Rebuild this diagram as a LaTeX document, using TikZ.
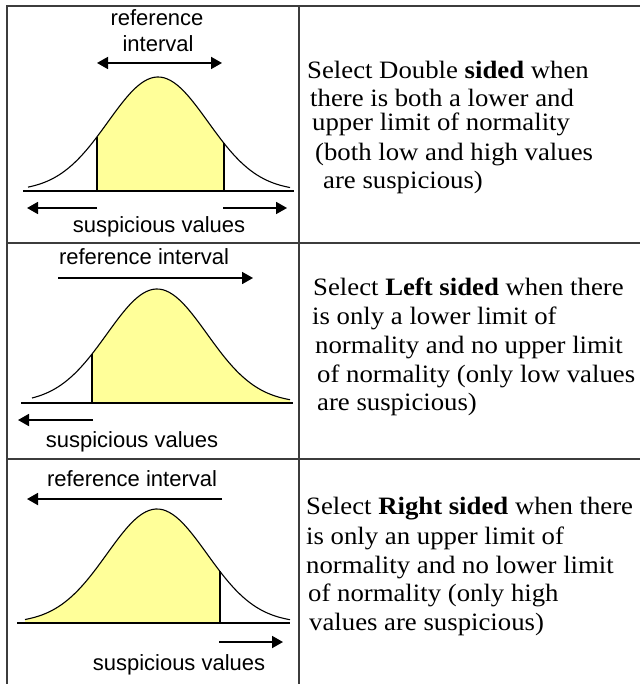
\documentclass[tikz,border=0pt]{standalone}
\usepackage{fontspec}
\setmainfont{Liberation Serif}
\newfontfamily\descfont[FakeStretch=1.07]{Liberation Serif}
\newfontfamily\labfont{Liberation Sans}
\usetikzlibrary{arrows.meta}
\definecolor{bellfill}{HTML}{FFFF99}
\definecolor{rule}{HTML}{3C3C3C}

\tikzset{
  gridline/.style={rule,line width=2pt},
  axisline/.style={black,line width=1.6pt},
  bellline/.style={black,line width=1.1pt},
  cutline/.style={black,line width=1.6pt},
  spanarrow/.style={black,line width=1.8pt,-{Triangle[length=11pt,width=12pt]}},
  spanboth/.style={black,line width=1.8pt,{Triangle[length=11pt,width=12pt]}-{Triangle[length=11pt,width=12pt]}},
  lab/.style={font=\labfont\fontsize{22}{24}\selectfont,inner sep=0pt,anchor=base},
  desc/.style={font=\descfont\fontsize{25}{28}\selectfont,inner sep=0pt,anchor=base west},
  declare function={bell(\x,\m)=114*exp(-0.5*((\x-\m)/50)^2);}
}

\begin{document}
\begin{tikzpicture}[x=1pt,y=-1pt]
  \useasboundingbox (0,0) rectangle (640,684);

  % Table rules
  \draw[gridline] (7,684) -- (7,6) -- (640,6);
  \draw[gridline] (299,6) -- (299,684);
  \draw[gridline] (7,243) -- (640,243);
  \draw[gridline] (7,459) -- (640,459);

  % Row 1: double sided
  \fill[bellfill] (97,191) -- plot[domain=97:224,samples=40] (\x,{191-bell(\x,158)}) -- (224,191) -- cycle;
  \draw[cutline] (97,191) -- (97,{191-bell(97,158)});
  \draw[cutline] (224,191) -- (224,{191-bell(224,158)});
  \draw[bellline] plot[domain=28:290,samples=80,smooth] (\x,{191-bell(\x,158)});
  \draw[axisline] (23,191) -- (294,191);
  \node[lab] (ref1a) at (157,26) {reference};
  \node[lab] (ref1b) at (158,52) {interval};
  \draw[spanboth] (97,63) -- (222,63);
  \draw[spanarrow] (97,208) -- (27,208);
  \draw[spanarrow] (223,208) -- (287,208);
  \node[lab] (susp1) at (159,233) {suspicious values};

  \node[desc] (dbl1) at (307,79) {Select Double \textbf{sided} when};
  \node[desc] (dbl2) at (310,107) {there is both a lower and};
  \node[desc] (dbl3) at (312,131) {upper limit of normality};
  \node[desc] (dbl4) at (315,161) {(both low and high values};
  \node[desc] (dbl5) at (323,189) {are suspicious)};

  % Row 2: left sided
  \fill[bellfill] (92,403) -- plot[domain=92:290,samples=60] (\x,{403-bell(\x,157)}) -- (290,403) -- cycle;
  \draw[cutline] (92,403) -- (92,{403-bell(92,157)});
  \draw[bellline] plot[domain=32:290,samples=80,smooth] (\x,{403-bell(\x,157)});
  \draw[axisline] (21,403) -- (293,403);
  \node[lab] (ref2) at (144,264) {reference interval};
  \draw[spanarrow] (58,278) -- (253,278);
  \draw[spanarrow] (93,420) -- (18,420);
  \node[lab] (susp2) at (132,447) {suspicious values};

  \node[desc] (lft1) at (313,295) {Select \textbf{Left sided} when there};
  \node[desc] (lft2) at (312,324) {is only a lower limit of};
  \node[desc] (lft3) at (315,353) {normality and no upper limit};
  \node[desc] (lft4) at (317,382) {of normality (only low values};
  \node[desc] (lft5) at (317,410) {are suspicious)};

  % Row 3: right sided
  \fill[bellfill] (25,623) -- plot[domain=25:220,samples=60] (\x,{623-bell(\x,157)}) -- (220,623) -- cycle;
  \draw[cutline] (220,623) -- (220,{623-bell(220,157)});
  \draw[bellline] plot[domain=25:290,samples=80,smooth] (\x,{623-bell(\x,157)});
  \draw[axisline] (17,623) -- (290,623);
  \node[lab] (ref3) at (132,486) {reference interval};
  \draw[spanarrow] (222,499) -- (27,499);
  \draw[spanarrow] (219,642) -- (283,642);
  \node[lab] (susp3) at (179,670) {suspicious values};

  \node[desc] (rgt1) at (306,514) {Select \textbf{Right sided} when there};
  \node[desc] (rgt2) at (306,544) {is only an upper limit of};
  \node[desc] (rgt3) at (306,573) {normality and no lower limit};
  \node[desc] (rgt4) at (308,601) {of normality (only high};
  \node[desc] (rgt5) at (309,630) {values are suspicious)};
\end{tikzpicture}
\end{document}
